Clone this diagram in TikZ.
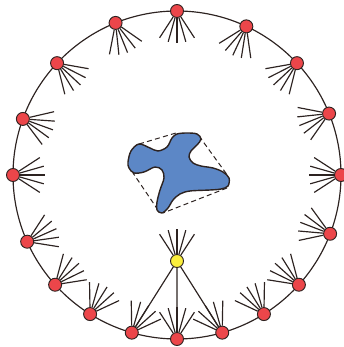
\documentclass[tikz,border=0pt]{standalone}
\usepackage{tikz}
\usetikzlibrary{calc}
\definecolor{dotred}{RGB}{236,70,74}
\definecolor{dotyellow}{RGB}{250,238,60}
\definecolor{blobblue}{RGB}{92,135,198}
\definecolor{ink}{RGB}{45,35,33}

\begin{document}
\begin{tikzpicture}[x=0.3mm, y=0.3mm, ink, line width=1pt,
	dot/.style={circle, draw=ink, fill=dotred, line width=0.8pt, minimum size=3.9mm, inner sep=0pt},
	hull/.style={dash pattern=on 1.5mm off 1mm, line width=0.85pt}]
	\useasboundingbox (-177,-172) rectangle (166,175);
	\draw (0,0) circle (164);
	\coordinate (h1) at (-38,31);
	\coordinate (h2) at (-1,42);
	\coordinate (h3) at (22,39);
	\coordinate (h4) at (51,-1);
	\coordinate (h5) at (50,-13);
	\coordinate (h6) at (-14,-38);
	\coordinate (h7) at (-19,-35);
	\coordinate (h8) at (-44,2);
	\draw[hull] (h1) -- (h2) (h3) -- (h4) (h5) -- (h6) (h7) -- (h8);
	\draw[line width=1.2pt, fill=blobblue] plot[smooth cycle, tension=0.55] coordinates {(-49,13) (-46,24) (-38,31) (-27,27) (-19,24) (-10,28) (-5,37) (0,41) (10,42) (20,41) (24,36) (20,30) (14,24) (12,18) (16,12) (24,9) (36,7) (46,3) (52,-3) (51,-11) (44,-14) (33,-15) (13,-16) (3,-19) (-4,-25) (-9,-33) (-15,-38) (-20,-35) (-20,-27) (-17,-15) (-13,-3) (-15,5) (-22,8) (-33,3) (-43,2) (-48,7)};
	\node[dot, fill=dotyellow] (y) at (0,-86) {};
	\foreach \s [evaluate=\s as \b using int(90+\s)] in {-33,-16,0,16,33}
		\draw (y.\b) -- ($(y)+(\b:32)$);
	\foreach \a/\d [count=\i] in {0/180, 22/202, 43/223, 65/245, 90/270, 112/292, 137/317, 160/340, 180/0, 204/24, 222/42, 238/58, 254/58, 270/90, 286/122, 302/122, 318/138, 339/159} {
		\node[dot] (p\i) at (\a:164) {};
		\foreach \s [evaluate=\s as \b using int(\d+\s)] in {-33,-16,0,16,33}
			\draw (p\i.\b) -- ($(p\i)+(\b:32)$);
	}
	\draw (y) -- (p13) (y) -- (p14) (y) -- (p15);
\end{tikzpicture}
\end{document}
